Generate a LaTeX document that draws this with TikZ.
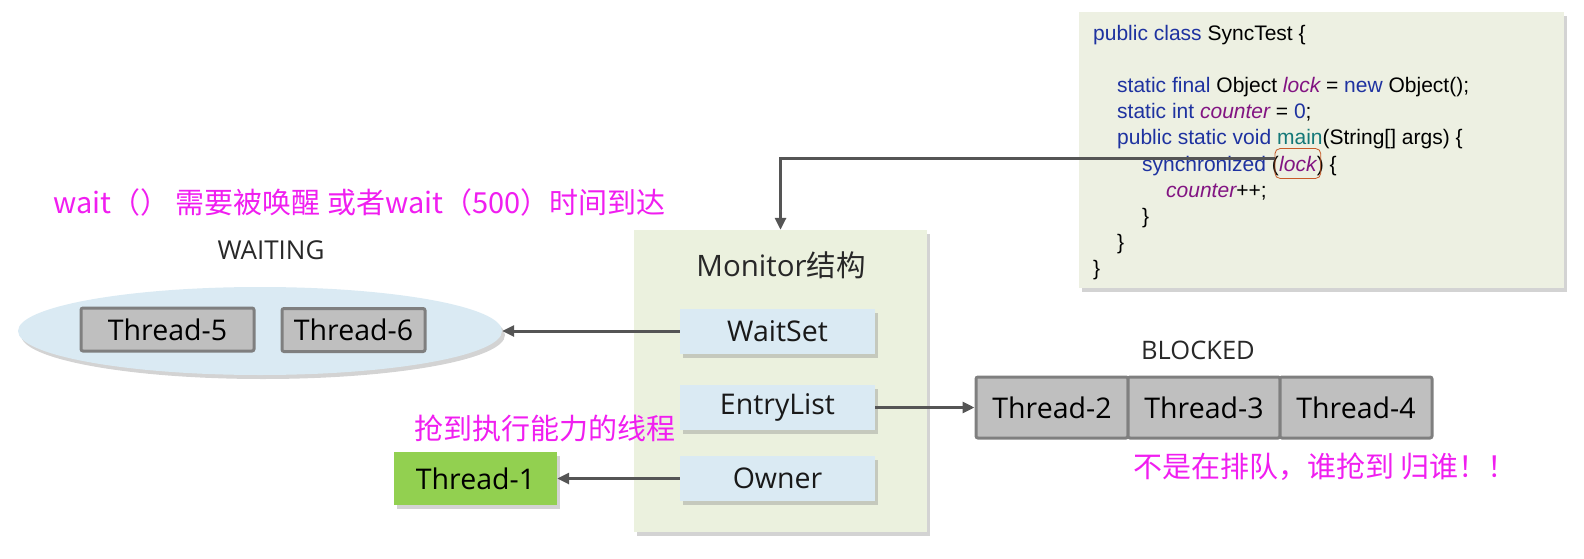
\documentclass[tikz,border=0pt]{standalone}
\usepackage{fontspec}
\setmainfont{Open Sans}
\newfontfamily\cjk{Noto Sans CJK SC}
\newfontfamily\codefont{Liberation Sans}
\usetikzlibrary{arrows.meta,shapes.geometric,shadows,fit}
\definecolor{codebg}{RGB}{237,240,226}
\definecolor{monbg}{RGB}{235,241,222}
\definecolor{slotbg}{RGB}{218,234,243}
\definecolor{thrgray}{RGB}{191,191,191}
\definecolor{thrborder}{RGB}{127,127,127}
\definecolor{thrgreen}{RGB}{146,208,80}
\definecolor{pinktext}{RGB}{240,30,240}
\definecolor{kwblue}{RGB}{30,50,160}
\definecolor{idpurple}{RGB}{130,20,130}
\definecolor{mainteal}{RGB}{20,120,120}
\definecolor{arrowgray}{RGB}{85,85,85}
\definecolor{lockorange}{RGB}{200,90,40}
\definecolor{labelgray}{RGB}{40,40,40}
\tikzset{
  shadowed/.style={drop shadow={opacity=0.35, shadow xshift=3pt, shadow yshift=-4pt}},
  lbl/.style={font=\fontsize{28.5}{32}\selectfont, text=labelgray},
  slot/.style={rectangle, fill=slotbg, minimum width=195pt, minimum height=45pt, lbl, text=black!90, shadowed},
  thread/.style={rectangle, fill=thrgray, draw=thrborder, line width=3pt, rounded corners=2pt, minimum height=43pt, font=\fontsize{28.5}{32}\selectfont},
  arr/.style={draw=arrowgray, line width=3pt, -{Triangle[length=12pt,width=11pt]}},
  code/.style={font=\codefont\fontsize{21}{24}\selectfont, inner sep=0pt, anchor=base west},
  pink/.style={text=pinktext, font=\cjk\fontsize{29}{34}\selectfont, inner sep=0pt},
}
\begin{document}
\begin{tikzpicture}[x=1pt,y=-1pt]
\useasboundingbox (0,0) rectangle (1584,559);
% code box
\node[rectangle, fill=codebg, minimum width=485pt, minimum height=276pt, shadowed] (codebox) at (1321.5,150) {};
\node[code] (c1) at (1093,41) {\textcolor{kwblue}{public class} SyncTest \{};
\node[code] (c2) at (1117,93) {\textcolor{kwblue}{static final} Object \textcolor{idpurple}{\itshape lock} = \textcolor{kwblue}{new} Object();};
\node[code] (c3) at (1117,119) {\textcolor{kwblue}{static int} \textcolor{idpurple}{\itshape counter} = \textcolor{kwblue}{0};};
\node[code] (c4) at (1117,145) {\textcolor{kwblue}{public static void} \textcolor{mainteal}{main}(String[] args) \{};
\node[code] (c5a) at (1142,171) {\textcolor{kwblue}{synchronized} (};
\node[code, text=idpurple] (lk) at (c5a.base east) {\itshape lock};
\node[code] (c5c) at (lk.base east) {) \{};
\node[code] (c6) at (1166,197) {\textcolor{idpurple}{\itshape counter}++;};
\node[code] (c7) at (1142,223) {\}};
\node[code] (c8) at (1117,249) {\}};
\node[code] (c9) at (1093,275) {\}};
\node[fit=(lk), draw=lockorange, rounded corners=5pt, inner xsep=4pt, inner ysep=7pt, line width=0.8pt] (lkbox) {};
% monitor
\node[rectangle, fill=monbg, minimum width=293pt, minimum height=302pt, shadowed] (monitor) at (780.5,381) {};
\node[lbl, font=\fontsize{29.5}{34}\selectfont] (montitle) at (781,265) {Monitor{\cjk 结构}};
\node[slot] (waitset) at (777.5,331) {WaitSet};
\node[slot] (entry) at (777.5,407.5) {EntryList};
\node[slot] (owner) at (777.5,478.5) {Owner};
% lock line
\coordinate (lkin) at ([yshift=5pt]lkbox.west);
\draw[arr] (lkin) -| (monitor.north);
% waiting
\node[pink, anchor=west] (p1) at (53,202) {wait（） 需要被唤醒 或者wait（500）时间到达};
\node[lbl, font=\fontsize{26}{30}\selectfont] (waiting) at (271,250) {WAITING};
\node[ellipse, fill=slotbg, minimum width=484pt, minimum height=88pt, shadowed] (waitell) at (260,331) {};
\node[thread, minimum width=173pt] (t5) at (167.5,329.5) {Thread-5};
\node[thread, minimum width=143pt] (t6) at (353.5,330) {Thread-6};
\draw[arr] (waitset.west) -- (waitell.east);
% blocked
\node[lbl, font=\fontsize{25.5}{30}\selectfont] (blocked) at (1198,350) {BLOCKED};
\node[thread, minimum width=152pt, minimum height=61pt] (t2) at (1052,407.5) {Thread-2};
\node[thread, minimum width=152pt, minimum height=61pt] (t3) at (1204,407.5) {Thread-3};
\node[thread, minimum width=152pt, minimum height=61pt] (t4) at (1356,407.5) {Thread-4};
\draw[arr] (entry.east) -- (t2.west);
\node[pink, anchor=west] (p3) at (1133,467) {不是在排队，谁抢到 归谁！！};
% owner
\node[pink, anchor=west] (p2) at (414,428) {抢到执行能力的线程};
\node[rectangle, fill=thrgreen, minimum width=163pt, minimum height=53pt, font=\fontsize{28.5}{32}\selectfont, shadowed] (t1) at (475.5,478.5) {Thread-1};
\draw[arr] (owner.west) -- (t1.east);
\end{tikzpicture}
\end{document}
